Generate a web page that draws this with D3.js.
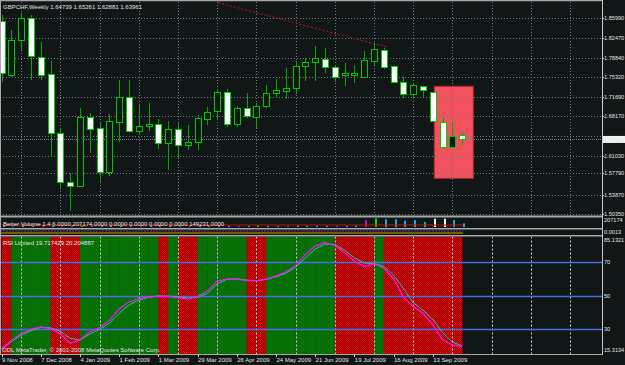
<!DOCTYPE html>
<html>
<head>
<meta charset="utf-8">
<script src="https://cdn.jsdelivr.net/npm/d3@7"></script>
<style>
  body { margin: 0; background: #111617; }
  svg { display: block; }
  text { font-family: "Liberation Sans", Arial, sans-serif; font-size: 6px; fill: #e4e4e4; }
  text.ax { font-size: 5.6px; }
</style>
</head>
<body>
<svg id="chart" width="625" height="365"></svg>
<script>
// GBPCHF weekly bars, 9 Nov 2008 .. 4 Oct 2009
const symbol = "GBPCHF,Weekly";
const opens = [1.85499, 1.75679, 1.81917, 1.85990, 1.79007, 1.75861, 1.65077, 1.56167, 1.55494, 1.68096,
  1.66096, 1.58040, 1.67187, 1.71733, 1.65550, 1.66405, 1.66714, 1.63259, 1.65805, 1.62822,
  1.63441, 1.67805, 1.69005, 1.72533, 1.66714, 1.69623, 1.68096, 1.70096, 1.72460, 1.72824,
  1.73315, 1.77261, 1.78170, 1.78643, 1.77188, 1.75625, 1.75625, 1.75261, 1.78225, 1.80225,
  1.77316, 1.74352, 1.72169, 1.73624, 1.72533, 1.67187, 1.62640, 1.64739];
const highs = [1.86590, 1.83862, 1.87008, 1.86590, 1.81735, 1.78225, 1.66041, 1.57912, 1.69623, 1.68823,
  1.67132, 1.68587, 1.74770, 1.74770, 1.70224, 1.70533, 1.67623, 1.67314, 1.66896, 1.66587,
  1.68405, 1.69914, 1.73079, 1.73079, 1.70042, 1.72351, 1.70533, 1.73861, 1.74897, 1.76897,
  1.78225, 1.78825, 1.81007, 1.80534, 1.77316, 1.77807, 1.77498, 1.80098, 1.81444, 1.80534,
  1.77498, 1.75261, 1.74170, 1.73733, 1.72533, 1.68096, 1.67187, 1.65261];
const lows = [1.74461, 1.75315, 1.80225, 1.74770, 1.74770, 1.60822, 1.55130, 1.51002, 1.55257, 1.61549,
  1.56094, 1.57367, 1.63441, 1.65132, 1.64768, 1.65550, 1.62168, 1.58403, 1.60531, 1.62040,
  1.62040, 1.66587, 1.67496, 1.66168, 1.66277, 1.67805, 1.66096, 1.69733, 1.71442, 1.71260,
  1.72169, 1.74643, 1.74643, 1.75988, 1.74461, 1.73733, 1.74170, 1.75261, 1.77498, 1.76716,
  1.74279, 1.71442, 1.71315, 1.71624, 1.67187, 1.62168, 1.62640, 1.62881];
const closes = [1.75988, 1.82044, 1.85990, 1.79007, 1.75679, 1.65077, 1.56167, 1.55494, 1.67987, 1.65986,
  1.58040, 1.67314, 1.71733, 1.65550, 1.66405, 1.66768, 1.63259, 1.65805, 1.62822, 1.63441,
  1.67805, 1.69005, 1.72533, 1.66714, 1.69623, 1.68096, 1.70096, 1.72460, 1.72951, 1.73315,
  1.77261, 1.78043, 1.78825, 1.77261, 1.75443, 1.75988, 1.75988, 1.78352, 1.80353, 1.77188,
  1.74461, 1.72169, 1.73806, 1.72897, 1.67187, 1.62640, 1.64641, 1.63961];

const priceTicks = [1.85990, 1.82470, 1.78840, 1.75320, 1.71690, 1.68170, 1.64540, 1.61030, 1.57790, 1.53870, 1.50350];
const lastPrice = 1.63961;

const timeTickBars = [0, 4, 8, 12, 16, 20, 24, 28, 32, 36, 40, 44];
const timeLabels = ["9 Nov 2008", "7 Dec 2008", "4 Jan 2009", "1 Feb 2009", "1 Mar 2009", "29 Mar 2009",
  "26 Apr 2009", "24 May 2009", "21 Jun 2009", "19 Jul 2009", "16 Aug 2009", "13 Sep 2009"];

// trend line and rectangle objects (bar index / price)
const trendLine = [{ bar: 22.1, price: 1.8883 }, { bar: 39.3, price: 1.8077 }];
const boxObject = { from: 44.16, to: 48.14, top: 1.73624, bottom: 1.56894 };

// Better Volume
const volumes = [26000, 18000, 31000, 22000, 27000, 35000, 24000, 19000, 33000, 21000,
  28000, 24000, 30000, 17000, 26000, 22000, 34000, 23000, 19000, 27000,
  31000, 22000, 25000, 29000, 21000, 26000, 33000, 24000, 20000, 27000,
  30000, 23000, 26000, 21000, 28000, 24000, 30000, 160000, 200000, 175000,
  175000, 145000, 160000, 115000, 190000, 190000, 160000, 85000];
const volColors = ["c", "b", "g", "c", "r", "c", "m", "c", "g", "b",
  "c", "c", "g", "c", "b", "c", "c", "g", "c", "b",
  "c", "g", "c", "c", "b", "c", "g", "c", "c", "b",
  "c", "g", "c", "c", "b", "c", "c", "m", "g", "c",
  "c", "c", "c", "c", "w", "w", "c", "c"];
const volumeAvg = 46000;
const volumeMax = 207174;

// RSI Limited
const rsiMain = [18.68, 23.03, 27.51, 30.02, 31.51, 30.49, 27.21, 21.66, 23.63, 28.58,
  30.97, 35.27, 42.13, 46.31, 48.40, 49.41, 49.89, 49.59, 48.99, 48.10,
  49.59, 52.87, 58.84, 60.03, 60.03, 59.02, 59.02, 60.03, 61.82, 64.21,
  68.09, 74.65, 79.73, 81.94, 80.03, 75.85, 70.78, 67.49, 69.28, 66.60,
  60.33, 49.29, 43.62, 39.74, 32.88, 23.93, 20.77, 19.717429];
const rsiSignal = [18.08, 22.62, 26.62, 29.18, 31.21, 30.97, 28.82, 24.65, 23.63, 27.21,
  30.02, 33.60, 39.56, 44.52, 47.50, 49.11, 49.89, 49.89, 49.47, 48.70,
  49.11, 51.50, 57.05, 59.85, 60.21, 59.44, 59.02, 59.85, 61.41, 63.44,
  67.02, 72.57, 77.94, 80.92, 80.74, 77.34, 72.69, 69.58, 69.40, 67.61,
  62.42, 54.48, 46.01, 41.53, 36.16, 28.11, 22.44, 20.204887];
const rsiZone = "RGGGGRRRGGGGGGGGRGRRGGGGGRRGGGGGGGRRRRGRRRRRRRR-";
const rsiLevels = [70, 50, 30];
const rsiRange = [15.3134, 85.1321];

const svg = d3.select("#chart");
const axisX = 602;
const bg = "#111617";

const x = d3.scaleLinear().domain([0, 47]).range([1.5, 462.1]);
const step = x(1) - x(0);
const yP = d3.scaleLinear().domain([1.50350, 1.85990]).range([214.3, 18.3]);
const yV = d3.scaleLinear().domain([0, volumeMax]).range([227, 218]);
const yR = d3.scaleLinear().domain(rsiRange).range([354, 237]);
const bars = d3.range(opens.length);
const px = i => Math.round(x(i)) + 0.5;

const defs = svg.append("defs");
[["clipPrice", 2, 215.5], ["clipVol", 217.5, 228.5], ["clipRsi", 236.5, 354]].forEach(([id, y0, y1]) => {
  defs.append("clipPath").attr("id", id)
    .append("rect").attr("x", 0).attr("y", y0).attr("width", axisX).attr("height", y1 - y0);
});
const pat = defs.append("pattern").attr("id", "redCheck")
  .attr("width", 2).attr("height", 2).attr("patternUnits", "userSpaceOnUse");
pat.append("rect").attr("width", 2).attr("height", 2).attr("fill", "#940000");
pat.append("rect").attr("width", 1).attr("height", 1).attr("fill", "#ea1010");
pat.append("rect").attr("x", 1).attr("y", 1).attr("width", 1).attr("height", 1).attr("fill", "#d40808");

svg.append("rect").attr("width", 625).attr("height", 365).attr("fill", bg);

// ---- price pane ----
const price = svg.append("g").attr("clip-path", "url(#clipPrice)");

price.append("rect")
    .attr("x", x(boxObject.from))
    .attr("y", yP(boxObject.top))
    .attr("width", x(boxObject.to) - x(boxObject.from))
    .attr("height", yP(boxObject.bottom) - yP(boxObject.top))
    .attr("fill", "#f2525e")
    .attr("stroke", "#b82a2a");

const gridBars = d3.range(2, 62, 4).filter(b => x(b) < axisX);
price.selectAll("line.vgrid")
    .data(gridBars)
  .enter().append("line")
    .attr("class", "vgrid")
    .attr("x1", px).attr("x2", px)
    .attr("y1", 2).attr("y2", 216)
    .attr("stroke", "#707a80")
    .attr("stroke-dasharray", "1,2");

price.selectAll("line.hgrid")
    .data(priceTicks)
  .enter().append("line")
    .attr("class", "hgrid")
    .attr("x1", 0).attr("x2", axisX)
    .attr("y1", d => Math.round(yP(d)) + 0.5)
    .attr("y2", d => Math.round(yP(d)) + 0.5)
    .attr("stroke", "#707a80")
    .attr("stroke-dasharray", "1,2");

price.append("line")
    .attr("x1", 0).attr("x2", axisX)
    .attr("y1", Math.round(yP(lastPrice)) + 0.5)
    .attr("y2", Math.round(yP(lastPrice)) + 0.5)
    .attr("stroke", "#6d7f96")
    .attr("stroke-dasharray", "1,1");

price.append("line")
    .attr("x1", x(trendLine[0].bar)).attr("y1", yP(trendLine[0].price))
    .attr("x2", x(trendLine[1].bar)).attr("y2", yP(trendLine[1].price))
    .attr("stroke", "#a8141e")
    .attr("stroke-width", 1.2)
    .attr("stroke-dasharray", "2,2");

const candle = price.selectAll("g.candle")
    .data(bars)
  .enter().append("g")
    .attr("class", "candle");

candle.append("line")
    .attr("x1", px).attr("x2", px)
    .attr("y1", i => Math.round(yP(highs[i])))
    .attr("y2", i => Math.round(yP(lows[i])))
    .attr("stroke", "#00a800");

candle.append("rect")
    .attr("x", i => px(i) - 3)
    .attr("y", i => Math.round(yP(Math.max(opens[i], closes[i]))) + 0.5)
    .attr("width", 6)
    .attr("height", i => Math.max(1, Math.round(Math.abs(yP(opens[i]) - yP(closes[i])))))
    .attr("fill", i => closes[i] < opens[i] ? "#ffffff" : bg)
    .attr("stroke", "#00c800");

svg.append("text")
    .attr("x", 3).attr("y", 8.5)
    .text(`${symbol}  ${[opens[47], highs[47], lows[47], closes[47]].map(d => d.toFixed(5)).join(" ")}`);

// ---- Better Volume pane ----
const volColor = { c: "#22a8d8", b: "#2a5ad8", g: "#10d010", r: "#e01010", m: "#c010c0", w: "#f0f0f0" };
const vol = svg.append("g").attr("clip-path", "url(#clipVol)");
vol.selectAll("rect")
    .data(bars)
  .enter().append("rect")
    .attr("x", i => px(i) + 0.5)
    .attr("y", i => yV(volumes[i]))
    .attr("width", 2)
    .attr("height", i => yV(0) - yV(volumes[i]))
    .attr("fill", i => volColor[volColors[i]]);
vol.append("line")
    .attr("x1", x(0)).attr("x2", x(47) + 1)
    .attr("y1", yV(volumeAvg)).attr("y2", yV(volumeAvg))
    .attr("stroke", "#c01010");
svg.append("text")
    .attr("x", 3).attr("y", 225.5)
    .attr("fill", "#d8d8d8")
    .text("Better Volume 1.4 6.0000 207174.0000 0.0000 0.0000 0.0000 0.0000 149231.0000");

// ---- small indicator pane ----
svg.append("line")
    .attr("x1", 0).attr("x2", x(47) + 1)
    .attr("y1", 231).attr("y2", 231)
    .attr("stroke", "#8a2a8a").attr("stroke-dasharray", "2,1");
svg.append("line")
    .attr("x1", 0).attr("x2", x(47) + 1)
    .attr("y1", 233).attr("y2", 233)
    .attr("stroke", "#c8a800");

// ---- RSI pane ----
const rsi = svg.append("g").attr("clip-path", "url(#clipRsi)");
rsi.selectAll("rect.zone")
    .data(bars.filter(i => rsiZone[i] !== "-"))
  .enter().append("rect")
    .attr("class", "zone")
    .attr("x", i => x(i))
    .attr("y", 236.5)
    .attr("width", step + 0.3)
    .attr("height", 354 - 236.5)
    .attr("fill", i => rsiZone[i] === "R" ? "url(#redCheck)" : "#077007");

rsi.selectAll("line.vgrid")
    .data(gridBars)
  .enter().append("line")
    .attr("class", "vgrid")
    .attr("x1", px).attr("x2", px)
    .attr("y1", 236.5).attr("y2", 354)
    .attr("stroke", "#c8d0d0")
    .attr("stroke-dasharray", "2,2");

rsi.selectAll("line.level")
    .data(rsiLevels)
  .enter().append("line")
    .attr("class", "level")
    .attr("x1", 0).attr("x2", axisX)
    .attr("y1", d => Math.round(yR(d)) + 0.5)
    .attr("y2", d => Math.round(yR(d)) + 0.5)
    .attr("stroke", "#4a6ee0")
    .attr("stroke-width", 1.3);

const rsiLine = d3.line().x((d, i) => x(i)).y(d => yR(d));
rsi.append("path").datum(rsiSignal)
    .attr("d", rsiLine).attr("fill", "none").attr("stroke", "#30c0a8");
rsi.append("path").datum(rsiMain)
    .attr("d", rsiLine).attr("fill", "none").attr("stroke", "#ff10ff").attr("stroke-width", 1.2);

svg.append("text")
    .attr("x", 3).attr("y", 244.5)
    .text(`RSI Limited ${rsiMain[47].toFixed(6)} ${rsiSignal[47].toFixed(6)}`);
svg.append("text")
    .attr("x", 2).attr("y", 351.5)
    .text("ODL MetaTrader, © 2001-2008 MetaQuotes Software Corp.");

// ---- frame and separators ----
[[0.5, 1.5], [216.5, 2], [228.8, 1.4], [235.8, 1.4], [354.5, 1]].forEach(([y, w]) => {
  svg.append("line")
      .attr("x1", 0).attr("x2", axisX)
      .attr("y1", y).attr("y2", y)
      .attr("stroke", "#a8a8a8").attr("stroke-width", w);
});
svg.append("line")
    .attr("x1", 0.5).attr("x2", 0.5).attr("y1", 0).attr("y2", 355)
    .attr("stroke", "#a8a8a8");
svg.append("line")
    .attr("x1", axisX + 0.5).attr("x2", axisX + 0.5).attr("y1", 0).attr("y2", 355)
    .attr("stroke", "#c8c8c8");

// ---- right axis labels ----
const right = svg.append("g");
right.selectAll("text.p")
    .data(priceTicks.filter(d => d !== 1.64540))
  .enter().append("text")
    .attr("class", "ax")
    .attr("x", 604)
    .attr("y", d => yP(d) + 2.1)
    .text(d => d.toFixed(5));
right.selectAll("line.pt")
    .data(priceTicks)
  .enter().append("line")
    .attr("x1", axisX).attr("x2", axisX + 2)
    .attr("y1", d => Math.round(yP(d)) + 0.5)
    .attr("y2", d => Math.round(yP(d)) + 0.5)
    .attr("stroke", "#c8c8c8");
right.append("rect")
    .attr("x", axisX + 1).attr("y", yP(lastPrice) - 3.5)
    .attr("width", 22).attr("height", 7)
    .attr("fill", "#f4f4f4");
right.append("text")
    .attr("class", "ax")
    .attr("x", 604).attr("y", yP(lastPrice) + 2.1)
    .attr("fill", "#111111")
    .text(lastPrice.toFixed(5));

right.append("text").attr("class", "ax").attr("x", 604).attr("y", 222).text(volumeMax);
right.append("text").attr("class", "ax").attr("x", 604).attr("y", 234.3).text("0.0013");

right.append("text").attr("class", "ax").attr("x", 604).attr("y", yR(rsiRange[1]) + 4.5).text(rsiRange[1].toFixed(4));
right.append("text").attr("class", "ax").attr("x", 604).attr("y", yR(rsiRange[0]) - 2).text(rsiRange[0].toFixed(4));
right.selectAll("text.lv")
    .data(rsiLevels)
  .enter().append("text")
    .attr("class", "ax")
    .attr("x", 604)
    .attr("y", d => yR(d) + 2.1)
    .text(d => d);

// ---- time axis ----
svg.selectAll("text.t")
    .data(timeTickBars)
  .enter().append("text")
    .attr("x", b => x(b) + 0.5)
    .attr("y", 362)
    .text((b, i) => timeLabels[i]);
svg.selectAll("line.tt")
    .data(timeTickBars)
  .enter().append("line")
    .attr("x1", px).attr("x2", px)
    .attr("y1", 354).attr("y2", 357)
    .attr("stroke", "#c8c8c8");
</script>
</body>
</html>
